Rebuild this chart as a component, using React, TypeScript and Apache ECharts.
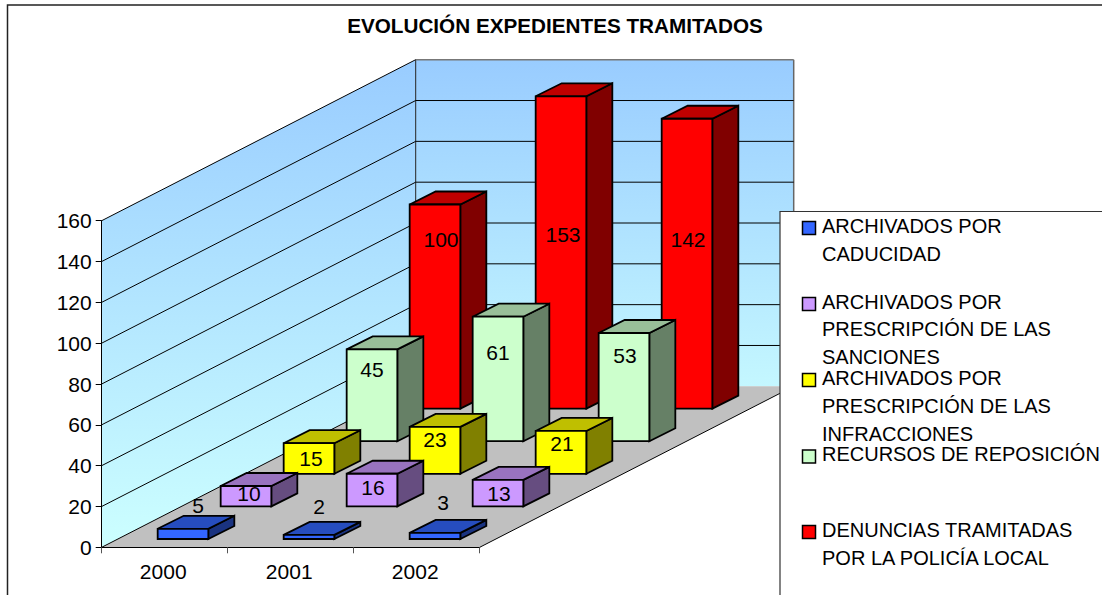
import React, { useEffect, useRef } from "react";
import * as echarts from "echarts";

const titleText = "EVOLUCIÓN EXPEDIENTES TRAMITADOS";
const categories = ["2000", "2001", "2002"];
const yTicks = [0, 20, 40, 60, 80, 100, 120, 140, 160];

const caducidad = [5, 2, 3];
const sanciones = [10, 16, 13];
const infracciones = [15, 23, 21];
const reposicion = [45, 61, 53];
const denuncias = [100, 153, 142];

const FONT = "'Liberation Sans', Arial, sans-serif";

// Depth layout of the 3D box, in pixels
const DEPTH_X = 314;
const DEPTH_Y = 161;
const BAR_SLOT_X = 63;
const BAR_SLOT_Y = 32.6;
const BAR_INSET_X = 18.3;
const BAR_INSET_Y = 8.3;
const BAR_RATIO = 0.402;
const BAR_DEPTH_X = 26;
const BAR_DEPTH_Y = 13;

// Hand-placed data-label nudges (px) from the top centre of each bar's front face
const labelNudge = [
  [[15, -23], [10, -28], [8, -30]],
  [[3, 8], [1, 14], [1, 14]],
  [[2, 15], [0, 13], [1, 13]],
  [[0, 20], [0, 36], [1, 22]],
  [[6, 35], [2, 138], [1, 121]],
];

const seriesDefs = [
  { values: caducidad, lines: ["ARCHIVADOS POR", "CADUCIDAD"], front: "#3366ff", top: "#264dbf", side: "#1a3380" },
  { values: sanciones, lines: ["ARCHIVADOS POR", "PRESCRIPCIÓN DE LAS", "SANCIONES"], front: "#cc99ff", top: "#9973bf", side: "#664d80" },
  { values: infracciones, lines: ["ARCHIVADOS POR", "PRESCRIPCIÓN DE LAS", "INFRACCIONES"], front: "#ffff00", top: "#bfbf00", side: "#808000" },
  { values: reposicion, lines: ["RECURSOS DE REPOSICIÓN"], front: "#ccffcc", top: "#99bf99", side: "#668066" },
  { values: denuncias, lines: ["DENUNCIAS TRAMITADAS", "POR LA POLICÍA LOCAL"], front: "#ff0000", top: "#bf0000", side: "#800000" },
];

const legendTop = [226, 301.5, 378, 453.5, 530];
const legendLineStep = 27.8;
const legendMarkerTop = [221.5, 297.5, 373.5, 450, 525.5];

const wallGradient = (y0: number, y1: number) =>
  new echarts.graphic.LinearGradient(0, y0, 0, y1, [
    { offset: 0, color: "#99ccff" },
    { offset: 1, color: "#ccffff" },
  ], true);

function polygon(points: number[][], fill: string | object, stroke: string | null, lineWidth = 1) {
  return {
    type: "polygon",
    shape: { points },
    style: { fill, stroke: stroke || "none", lineWidth, lineJoin: "miter" },
  };
}
function seg(x1: number, y1: number, x2: number, y2: number, stroke: string, lineWidth = 1) {
  return { type: "line", shape: { x1, y1, x2, y2 }, style: { stroke, lineWidth } };
}

function renderWalls(params: any, api: any) {
  const tick = api.value(1);
  const [x0, y] = api.coord([0, tick]);
  const band = api.size([1, 0])[0];
  const left = x0 - band / 2;
  const right = left + band * categories.length;
  const bottom = api.coord([0, 0])[1];
  const top = api.coord([0, yTicks[yTicks.length - 1]])[1];
  const children: any[] = [];
  if (tick === 0) {
    children.push(
      polygon(
        [[left, top], [left + DEPTH_X, top - DEPTH_Y], [left + DEPTH_X, bottom - DEPTH_Y], [left, bottom]],
        wallGradient(top - DEPTH_Y, bottom), null),
      polygon(
        [[left + DEPTH_X, top - DEPTH_Y], [right + DEPTH_X, top - DEPTH_Y], [right + DEPTH_X, bottom - DEPTH_Y], [left + DEPTH_X, bottom - DEPTH_Y]],
        wallGradient(top - DEPTH_Y, bottom - DEPTH_Y + 60), null),
      polygon(
        [[left, bottom], [right, bottom], [right + DEPTH_X, bottom - DEPTH_Y], [left + DEPTH_X, bottom - DEPTH_Y]],
        "#c0c0c0", null),
      seg(left, bottom, left + DEPTH_X, bottom - DEPTH_Y, "#000"),
      seg(right, bottom, right + DEPTH_X, bottom - DEPTH_Y, "#000"),
      seg(left + DEPTH_X, top - DEPTH_Y, left + DEPTH_X, bottom - DEPTH_Y, "#222"),
      seg(right + DEPTH_X, top - DEPTH_Y, right + DEPTH_X, bottom - DEPTH_Y, "#666", 1.5),
      seg(left + DEPTH_X, top - DEPTH_Y, right + DEPTH_X, top - DEPTH_Y, "#777", 1.5),
    );
  } else {
    children.push(
      seg(left, y, left + DEPTH_X, y - DEPTH_Y, "#000"),
    );
    if (tick !== yTicks[yTicks.length - 1]) {
      children.push(seg(left + DEPTH_X, y - DEPTH_Y, right + DEPTH_X, y - DEPTH_Y, "#000"));
    }
  }
  return { type: "group", children };
}

function makeBarRenderer(slot: number) {
  const def = seriesDefs[slot];
  return (params: any, api: any) => {
    const cat = api.value(0);
    const value = api.value(1);
    const [cx, yVal] = api.coord([cat, value]);
    const yZero = api.coord([cat, 0])[1];
    const band = api.size([1, 0])[0];
    const w = band * BAR_RATIO;
    const dx = BAR_DEPTH_X;
    const dy = BAR_DEPTH_Y;
    const shiftX = BAR_SLOT_X * slot + BAR_INSET_X;
    const shiftY = BAR_SLOT_Y * slot + BAR_INSET_Y;
    const l = cx - w / 2 + shiftX;
    const r = l + w;
    const b = yZero - shiftY;
    const t = yVal - shiftY;
    const nudge = labelNudge[slot][cat];
    const lw = 1.8;
    return {
      type: "group",
      children: [
        polygon([[r, b], [r + dx, b - dy], [r + dx, t - dy], [r, t]], def.side, "#000", lw),
        polygon([[l, t], [r, t], [r + dx, t - dy], [l + dx, t - dy]], def.top, "#000", lw),
        polygon([[l, b], [r, b], [r, t], [l, t]], def.front, "#000", lw),
        {
          type: "text",
          style: {
            x: l + w / 2 + nudge[0],
            y: t + nudge[1],
            text: String(value),
            fill: "#000",
            font: `21px ${FONT}`,
            align: "center",
            verticalAlign: "middle",
          },
        },
      ],
    };
  };
}

function legendGraphics() {
  const out: any[] = [
    { type: "polyline", z: 0, shape: { points: [[7.5, 595], [7.5, 5], [1102, 5]] }, style: { stroke: "#222", lineWidth: 1.5, fill: "none" } },
    { type: "rect", z: 50, shape: { x: 780, y: 211.5, width: 322, height: 383.5 }, style: { fill: "#fff" } },
    { type: "polyline", z: 51, shape: { points: [[780, 595], [780, 211.5], [1102, 211.5]] }, style: { stroke: "#333", lineWidth: 1.2, fill: "none" } },
  ];
  seriesDefs.forEach((def, i) => {
    out.push({
      type: "rect",
      z: 52,
      shape: { x: 802.5, y: legendMarkerTop[i], width: 13, height: 13 },
      style: { fill: def.front, stroke: "#000", lineWidth: 1.5 },
    });
    def.lines.forEach((line, j) => {
      out.push({
        type: "text",
        z: 53,
        x: 822,
        y: legendTop[i] + j * legendLineStep,
        style: { text: line, fill: "#000", font: `20px ${FONT}`, align: "left", verticalAlign: "middle" },
      });
    });
  });
  return out;
}

export default function App() {
  const ref = useRef<HTMLDivElement>(null);
  useEffect(() => {
    const chart = echarts.init(ref.current!, undefined, { renderer: "svg" });
    chart.setOption({
      animation: false,
      backgroundColor: "#fff",
      title: {
        text: titleText,
        left: 555,
        top: 10,
        textAlign: "center",
        padding: [5, 9, 5, 0],
        textStyle: { fontFamily: FONT, fontSize: 20.7, fontWeight: "bold", color: "#000" },
      },
      grid: { left: 101.7, top: 220.7, width: 378, height: 326.6, containLabel: false },
      xAxis: {
        type: "category",
        data: categories,
        z: 20,
        axisLine: { lineStyle: { color: "#000", width: 1 } },
        axisTick: { show: true, length: 6, alignWithLabel: false, lineStyle: { color: "#555" } },
        axisLabel: { color: "#000", fontFamily: FONT, fontSize: 21, margin: 14, padding: [0, 3, 0, 0] },
        splitLine: { show: false },
      },
      yAxis: {
        type: "value",
        min: 0,
        max: 160,
        interval: 20,
        z: 20,
        axisLine: { show: true, lineStyle: { color: "#000", width: 1 } },
        axisTick: { show: true, length: 6, lineStyle: { color: "#000" } },
        axisLabel: { color: "#000", fontFamily: FONT, fontSize: 21, margin: 10 },
        splitLine: { show: false },
      },
      series: [
        {
          type: "custom",
          name: "walls",
          z: 1,
          silent: true,
          clip: false,
          renderItem: renderWalls,
          data: yTicks.map((t) => [0, t]),
          encode: { x: 0, y: 1 },
        },
        ...seriesDefs.map((def, slot) => ({
          type: "custom",
          name: def.lines.join(" "),
          z: 10 - slot,
          silent: true,
          clip: false,
          renderItem: makeBarRenderer(slot),
          data: def.values.map((v, i) => [i, v]),
          encode: { x: 0, y: 1 },
        })),
      ],
      graphic: { elements: legendGraphics() },
    });
    return () => chart.dispose();
  }, []);
  return <div ref={ref} style={{ position: "absolute", left: 0, top: 0, width: 1102, height: 595 }} />;
}
